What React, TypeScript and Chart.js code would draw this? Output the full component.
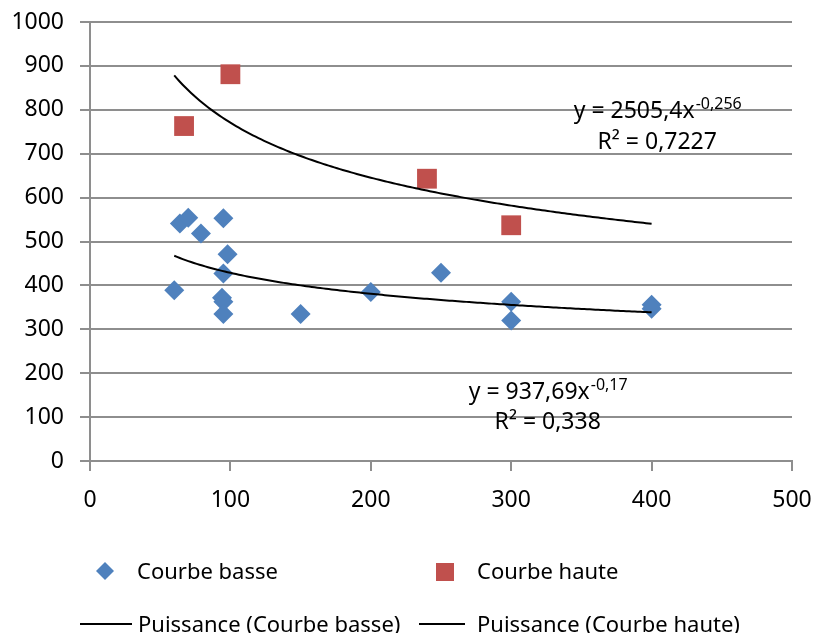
import React, { useEffect, useRef } from "react";
import { Chart, registerables } from "chart.js";

Chart.register(...registerables);

const FONT = "'Noto Sans', sans-serif";
const BLUE = "#4F81BD";
const RED = "#C0504D";
const GRID = "#8e8e8e";

// Courbe basse
const basseX = [60, 64, 70, 79, 95, 98, 95, 94, 95, 95, 150, 200, 250, 300, 300, 400, 400];
const basseY = [389, 541, 554, 518, 553, 471, 427, 372, 363, 335, 335, 385, 429, 363, 320, 356, 347];

// Courbe haute
const hauteX = [67, 100, 240, 300];
const hauteY = [763, 881, 643, 537];

// Axis ranges
const xRange = [0, 500];
const xStep = 100;
const yRange = [0, 1000];
const yStep = 100;

// Power trend lines y = a·x^b, as printed on the chart
const basseFit = { a: 937.69, b: -0.17, eq: "y = 937,69x", exp: "-0,17", r2: "R² = 0,338" };
const hauteFit = { a: 2505.4, b: -0.256, eq: "y = 2505,4x", exp: "-0,256", r2: "R² = 0,7227" };
const fitFrom = 60;
const fitTo = 400;

const legendLabels = ["Courbe basse", "Courbe haute", "Puissance (Courbe basse)", "Puissance (Courbe haute)"];

function fitPoints(fit: { a: number; b: number }) {
  const pts: { x: number; y: number }[] = [];
  for (let x = fitFrom; x <= fitTo; x += 2) pts.push({ x, y: fit.a * Math.pow(x, fit.b) });
  return pts;
}

function drawEquation(ctx: CanvasRenderingContext2D, cx: number, cy: number, eq: string, exp: string) {
  ctx.font = `23px ${FONT}`;
  const w1 = ctx.measureText(eq).width;
  ctx.font = `16px ${FONT}`;
  const w2 = ctx.measureText(exp).width;
  const left = cx - (w1 + w2) / 2;
  ctx.font = `23px ${FONT}`;
  ctx.fillText(eq, left, cy + 8);
  ctx.font = `16px ${FONT}`;
  ctx.fillText(exp, left + w1 + 1, cy - 1);
}

function drawCentered(ctx: CanvasRenderingContext2D, cx: number, cy: number, text: string) {
  ctx.font = `23px ${FONT}`;
  const w = ctx.measureText(text).width;
  ctx.fillText(text, cx - w / 2, cy + 8);
}

const overlayPlugin = {
  id: "overlay",
  afterDraw(chart: any) {
    const ctx: CanvasRenderingContext2D = chart.ctx;
    const xs = chart.scales.x;
    const ys = chart.scales.y;
    ctx.save();
    ctx.fillStyle = "#000";
    ctx.textAlign = "left";
    ctx.textBaseline = "alphabetic";

    // trend line equations
    const hx = xs.getPixelForValue(404);
    drawEquation(ctx, hx, ys.getPixelForValue(800), hauteFit.eq, hauteFit.exp);
    drawCentered(ctx, hx, ys.getPixelForValue(730), hauteFit.r2);
    const bx = xs.getPixelForValue(326);
    drawEquation(ctx, bx, ys.getPixelForValue(159), basseFit.eq, basseFit.exp);
    drawCentered(ctx, bx, ys.getPixelForValue(90), basseFit.r2);

    // legend
    ctx.font = `22px ${FONT}`;
    const row1 = 571;
    const row2 = 624;
    // diamond
    ctx.fillStyle = BLUE;
    ctx.beginPath();
    ctx.moveTo(105, row1 - 9);
    ctx.lineTo(114, row1);
    ctx.lineTo(105, row1 + 9);
    ctx.lineTo(96, row1);
    ctx.closePath();
    ctx.fill();
    // square
    ctx.fillStyle = RED;
    ctx.fillRect(436, row1 - 8, 18, 18);

    ctx.fillStyle = "#000";
    ctx.fillText(legendLabels[0], 137, row1 + 8);
    ctx.fillText(legendLabels[1], 477, row1 + 8);

    ctx.strokeStyle = "#000";
    ctx.lineWidth = 2;
    ctx.beginPath();
    ctx.moveTo(80, row2);
    ctx.lineTo(132, row2);
    ctx.moveTo(419, row2);
    ctx.lineTo(465, row2);
    ctx.stroke();
    ctx.fillText(legendLabels[2], 138, row2 + 8);
    ctx.fillText(legendLabels[3], 477, row2 + 8);
    ctx.restore();
  },
};

export default function App() {
  const canvasRef = useRef<HTMLCanvasElement | null>(null);

  useEffect(() => {
    if (!canvasRef.current) return;
    const chart = new Chart(canvasRef.current, {
      type: "scatter",
      data: {
        datasets: [
          {
            label: legendLabels[2],
            data: fitPoints(basseFit),
            showLine: true,
            borderColor: "#000",
            borderWidth: 2,
            pointRadius: 0,
            tension: 0,
          },
          {
            label: legendLabels[3],
            data: fitPoints(hauteFit),
            showLine: true,
            borderColor: "#000",
            borderWidth: 2,
            pointRadius: 0,
            tension: 0,
          },
          {
            label: legendLabels[0],
            data: basseX.map((x, i) => ({ x, y: basseY[i] })),
            pointStyle: "rectRot",
            pointRadius: 10,
            backgroundColor: BLUE,
            borderWidth: 0,
          },
          {
            label: legendLabels[1],
            data: hauteX.map((x, i) => ({ x, y: hauteY[i] })),
            pointStyle: "rect",
            pointRadius: 14,
            backgroundColor: RED,
            borderWidth: 0,
          },
        ],
      },
      options: {
        responsive: false,
        animation: false,
        layout: { padding: { top: 22, right: 24, left: 0, bottom: 0 } },
        plugins: {
          legend: { display: false },
          tooltip: { enabled: false },
        },
        scales: {
          x: {
            type: "linear",
            min: xRange[0],
            max: xRange[1],
            ticks: {
              stepSize: xStep,
              color: "#000",
              padding: 16,
              font: { family: FONT, size: 23 },
              maxRotation: 0,
              callback: (v: any) => String(v),
            },
            grid: {
              drawOnChartArea: false,
              drawTicks: true,
              tickLength: 10,
              color: GRID,
              lineWidth: 2,
            },
            border: { display: true, color: GRID, width: 2 },
            afterFit: (scale: any) => {
              scale.height = 172;
              scale.paddingLeft = 0;
              scale.paddingRight = 0;
            },
          },
          y: {
            type: "linear",
            min: yRange[0],
            max: yRange[1],
            ticks: {
              stepSize: yStep,
              color: "#000",
              padding: 16,
              font: { family: FONT, size: 23 },
              callback: (v: any) => String(v),
            },
            grid: {
              drawTicks: true,
              tickLength: 10,
              color: GRID,
              lineWidth: 2,
            },
            border: { display: true, color: GRID, width: 2 },
            afterFit: (scale: any) => {
              scale.width = 90;
              scale.paddingTop = 0;
              scale.paddingBottom = 0;
            },
          },
        },
      },
      plugins: [overlayPlugin],
    });
    return () => chart.destroy();
  }, []);

  return (
    <div style={{ position: "fixed", left: 0, top: 0, width: 816, height: 633, background: "#fff" }}>
      <canvas ref={canvasRef} width={816} height={633} style={{ display: "block" }} />
    </div>
  );
}
